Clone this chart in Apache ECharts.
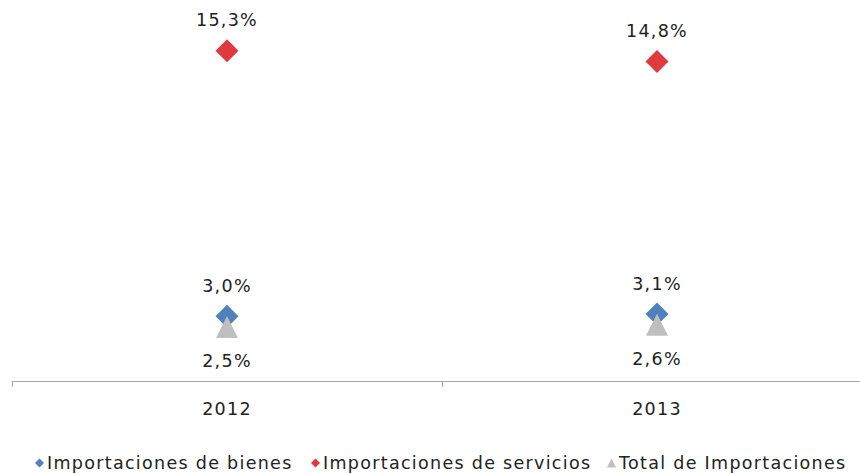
<!DOCTYPE html>
<html><head><meta charset="utf-8">
<script src="https://cdn.jsdelivr.net/npm/echarts@6/dist/echarts.min.js"></script>
<style>html,body{margin:0;padding:0;background:#fff}#c{width:860px;height:474px}#c text{letter-spacing:1.3px}</style>
</head><body><div id="c"></div>
<script>
var categories = ['2012', '2013'];
var bienes = [3.0, 3.1];
var servicios = [15.3, 14.8];
var total = [2.5, 2.6];
var seriesNames = ['Importaciones de bienes', 'Importaciones de servicios', 'Total de Importaciones'];

var FONT = 'DejaVu Sans';
var FS = 17.5;
function fmt(p){ return p.value.toFixed(1).replace('.', ',') + '%'; }
var chart = echarts.init(document.getElementById('c'), null, {renderer: 'svg'});
function leg(name, icon, left){
  return {
    top: 454, left: left, padding: 0, itemWidth: 9, itemHeight: 9,
    textStyle: {color: '#222', fontSize: FS, fontFamily: FONT, padding: [0,0,0,-2]},
    data: [{name: name, icon: icon}]
  };
}
chart.setOption({
  animation: false,
  textStyle: {fontFamily: FONT},
  grid: {left: 12, width: 860, top: 14, bottom: 93, containLabel: false, outerBoundsMode: 'none'},
  xAxis: {
    type: 'category', data: categories, boundaryGap: true,
    axisLine: {lineStyle: {color: '#a6a6a6'}},
    axisTick: {show: true, length: 6, lineStyle: {color: '#a6a6a6'}},
    axisLabel: {color: '#222', fontSize: FS, fontFamily: FONT, margin: 19}
  },
  yAxis: {type: 'value', min: 0, max: 17, show: false, splitLine: {show: false}},
  legend: [
    leg(seriesNames[0], 'diamond', 35),
    leg(seriesNames[1], 'diamond', 311),
    leg(seriesNames[2], 'triangle', 607)
  ],
  series: [
    {name: seriesNames[0], type: 'line', data: bienes, symbol: 'diamond', symbolSize: 23,
     lineStyle: {width: 0, opacity: 0}, itemStyle: {color: '#4f81bd'}, z: 2,
     label: {show: true, position: 'top', distance: 10, formatter: fmt, color: '#222', fontSize: FS, fontFamily: FONT}},
    {name: seriesNames[1], type: 'line', data: servicios, symbol: 'diamond', symbolSize: 23,
     lineStyle: {width: 0, opacity: 0}, itemStyle: {color: '#e0393e'},
     label: {show: true, position: 'top', distance: 10, formatter: fmt, color: '#222', fontSize: FS, fontFamily: FONT}},
    {name: seriesNames[2], type: 'line', data: total, symbol: 'triangle', symbolSize: [22, 22],
     lineStyle: {width: 0, opacity: 0}, itemStyle: {color: '#bfbfbf'}, z: 3,
     label: {show: true, position: 'bottom', distance: 14, formatter: fmt, color: '#222', fontSize: FS, fontFamily: FONT}}
  ]
});
</script></body></html>
